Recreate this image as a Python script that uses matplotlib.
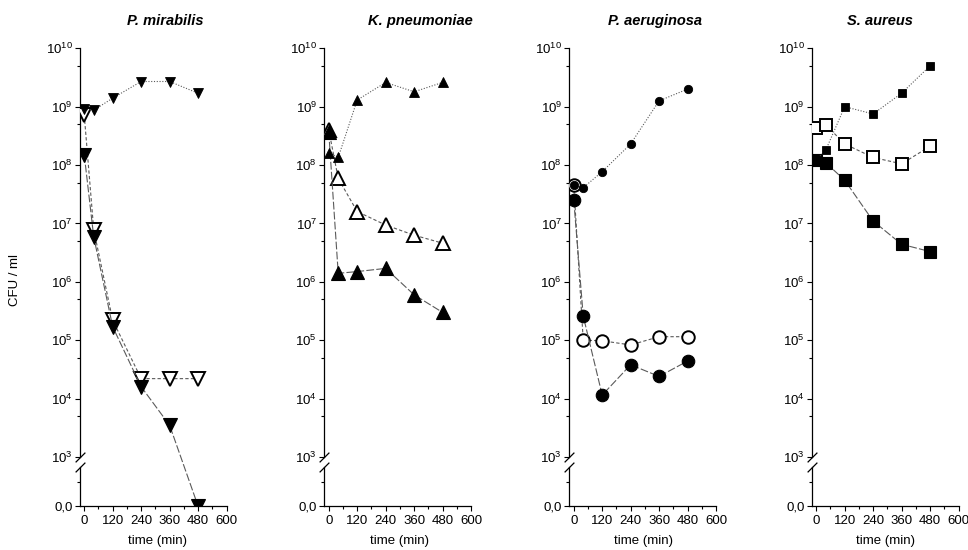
import numpy as np
import matplotlib
matplotlib.use("Agg")
import matplotlib.pyplot as plt
from matplotlib import transforms
from matplotlib.ticker import FixedLocator, FixedFormatter

plt.rcParams['font.family'] = ['Liberation Sans', 'DejaVu Sans']
plt.rcParams['mathtext.fontset'] = 'custom'
plt.rcParams['mathtext.rm'] = 'Liberation Sans'
plt.rcParams['mathtext.it'] = 'Liberation Sans:italic'
plt.rcParams['mathtext.bf'] = 'Liberation Sans:bold'

# ---------------- data ----------------
time = [0, 40, 120, 240, 360, 480]
titles = ["P. mirabilis", "K. pneumoniae", "P. aeruginosa", "S. aureus"]

pm_small = [9.0e8, 8.7e8, 1.4e9, 2.7e9, 2.7e9, 1.7e9]
pm_big = [1.5e8, 5.9e6, 1.7e5, 1.6e4, 3.5e3, 0]
pm_open = [7.2e8, 7.8e6, 2.2e5, 2.2e4, 2.2e4, 2.2e4]

kp_small = [1.6e8, 1.35e8, 1.3e9, 2.6e9, 1.8e9, 2.6e9]
kp_big = [3.7e8, 1.4e6, 1.5e6, 1.7e6, 6.0e5, 3.0e5]
kp_open = [4.0e8, 5.9e7, 1.6e7, 9.4e6, 6.3e6, 4.6e6]

pa_small = [4.6e7, 4.1e7, 7.7e7, 2.3e8, 1.26e9, 2.0e9]
pa_big = [2.5e7, 2.6e5, 1.15e4, 3.8e4, 2.4e4, 4.4e4]
pa_open = [4.6e7, 1.0e5, 9.8e4, 8.3e4, 1.15e5, 1.15e5]

sa_small = [1.2e8, 1.8e8, 1.0e9, 7.5e8, 1.7e9, 5.0e9]
sa_big = [1.2e8, 1.1e8, 5.5e7, 1.1e7, 4.4e6, 3.3e6]
sa_open = [4.4e8, 4.9e8, 2.3e8, 1.35e8, 1.05e8, 2.1e8]

y_major = [0, 1e3, 1e4, 1e5, 1e6, 1e7, 1e8, 1e9, 1e10]
y_major_labels = ["0,0"] + [r"$\mathregular{10^{%d}}$" % n for n in range(3, 11)]
y_minor = [500] + [5 * 10.0 ** n for n in range(3, 10)]
x_major = [0, 120, 240, 360, 480, 600]
x_minor = [60, 180, 300, 420, 540]

panels = [
    (pm_small, pm_big, pm_open, 'v'),
    (kp_small, kp_big, kp_open, '^'),
    (pa_small, pa_big, pa_open, 'o'),
    (sa_small, sa_big, sa_open, 's'),
]

# ------------- broken scale -------------
V0 = 2.161


def fwd(y):
    y = np.asarray(y, dtype=float)
    with np.errstate(all='ignore'):
        return np.where(y >= 1000, np.log10(np.maximum(y, 1e-300)),
                        V0 + (3 - V0) * y / 1000.0)


def inv(v):
    v = np.asarray(v, dtype=float)
    with np.errstate(all='ignore'):
        return np.where(v >= 3, 10.0 ** np.minimum(v, 300),
                        (v - V0) / (3 - V0) * 1000.0)


W, H = 968, 550
fig = plt.figure(figsize=(W / 100, H / 100), dpi=100)

lefts = [79.5, 324.0, 569.0, 811.5]
axw = 147.0
ybot, ytop = 506.0, 48.3
title_x = [165, 420, 655, 880]
xlabel_x = [157, 400, 643, 885]

sizes = {'v': (7.0, 10.5), '^': (7.0, 10.5), 'o': (6.0, 9.0), 's': (6.0, 9.0)}
lc = '#5a5a5a'

for i, (small, big, opn, mk) in enumerate(panels):
    ax = fig.add_axes([lefts[i] / W, 1 - ybot / H, axw / W, (ybot - ytop) / H])
    ax.set_yscale('function', functions=(fwd, inv))
    ax.set_xlim(-20, 600)
    ax.set_ylim(0, 1e10)

    ms_s, ms_b = sizes[mk]
    ax.plot(time, opn, linestyle=(0, (3, 2)), color=lc, lw=0.8,
            marker=mk, ms=ms_b, mfc='white', mec='black', mew=1.4, zorder=3)
    ax.plot(time, big, linestyle=(0, (7, 2)), color=lc, lw=0.8,
            marker=mk, ms=ms_b, mfc='black', mec='black', mew=0.8, zorder=4)
    ax.plot(time, small, linestyle=(0, (1, 1.5)), color=lc, lw=0.8,
            marker=mk, ms=ms_s, mfc='black', mec='black', mew=0.6, zorder=5)

    for s in ('top', 'right'):
        ax.spines[s].set_visible(False)
    ax.spines['left'].set_bounds(1000, 1e10)
    ax.spines['left'].set_linewidth(0.9)
    ax.spines['bottom'].set_linewidth(0.9)
    bt = transforms.blended_transform_factory(ax.transAxes, ax.transData)
    ax.plot([0, 0], [0, 800], transform=bt, color='black', lw=0.9, clip_on=False)
    ax.plot([0, 0], [1000, 800], transform=bt, linestyle='none',
            marker=[(-1, -1), (1, 1)], ms=7, mew=0.9, color='black', clip_on=False)

    ax.yaxis.set_major_locator(FixedLocator(y_major))
    ax.yaxis.set_major_formatter(FixedFormatter(y_major_labels))
    ax.yaxis.set_minor_locator(FixedLocator(y_minor))
    ax.xaxis.set_major_locator(FixedLocator(x_major))
    ax.xaxis.set_minor_locator(FixedLocator(x_minor))
    ax.tick_params(which='major', direction='out', length=3.5, width=0.8,
                   labelsize=9.5, pad=1.5)
    ax.tick_params(which='minor', direction='out', length=2, width=0.8)
    ax.tick_params(axis='x', which='major', pad=3)

    fig.text(title_x[i] / W, 1 - 21 / H, titles[i], ha='center', va='center',
             fontsize=10.5, fontweight='bold', style='italic')
    fig.text(xlabel_x[i] / W, 1 - 541 / H, 'time (min)', ha='center', va='center',
             fontsize=9.5)

fig.text(15 / W, 1 - 280 / H, 'CFU / ml', rotation=90, ha='center', va='center',
         fontsize=9.5)

fig.savefig('out.png', dpi=100)
